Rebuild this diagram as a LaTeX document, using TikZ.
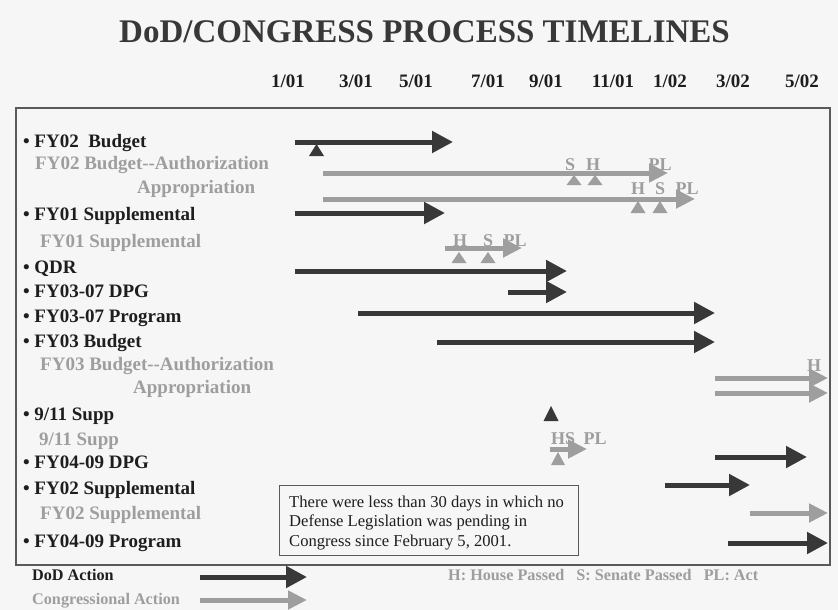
\documentclass[tikz,border=0pt]{standalone}
\usepackage{fontspec}
\setmainfont{Liberation Serif}
\usetikzlibrary{arrows.meta}
\definecolor{darkc}{HTML}{383838}
\definecolor{lightc}{HTML}{9E9E9E}
\definecolor{txtc}{HTML}{1E1E1E}
\definecolor{bgc}{HTML}{F6F6F6}
\definecolor{framec}{HTML}{5A5A5A}
\newcommand\mytri[5]{\fill[#5] (#1-#3/2,#2+#4) -- (#1+#3/2,#2+#4) -- (#1,#2) -- cycle;}
\begin{document}
\begin{tikzpicture}[x=1pt,y=-1pt,
  lbl/.style={anchor=base west, inner sep=0pt, font=\fontsize{19}{22}\selectfont\bfseries},
  blk/.style={lbl, text=txtc},
  gry/.style={lbl, text=lightc},
  mon/.style={anchor=base, inner sep=0pt, font=\fontsize{19}{22}\selectfont\bfseries, text=txtc},
  mk/.style={anchor=base, inner sep=0pt, font=\fontsize{18}{20}\selectfont\bfseries, text=lightc},
  leg/.style={anchor=base west, inner sep=0pt, font=\fontsize{16.2}{19}\selectfont\bfseries},
  boxt/.style={anchor=base west, inner sep=0pt, font=\fontsize{16.6}{19.5}\selectfont, text=txtc},
  dod/.style={draw=darkc, line width=5pt, -{Triangle[length=21pt,width=21pt]}},
  cong/.style={draw=lightc, line width=5pt, -{Triangle[length=19pt,width=18pt]}}]
\fill[bgc] (0,0) rectangle (838,610);
\useasboundingbox (0,0) rectangle (838,610);
% title
\node[anchor=base, inner sep=0pt, font=\fontsize{33}{36}\selectfont\bfseries, text=darkc] (title) at (424.5,43) {DoD/CONGRESS PROCESS TIMELINES};
% months
\node[mon] (m1) at (288,88) {1/01};
\node[mon] (m2) at (356,88) {3/01};
\node[mon] (m3) at (416,88) {5/01};
\node[mon] (m4) at (488,88) {7/01};
\node[mon] (m5) at (546,88) {9/01};
\node[mon] (m6) at (613,88) {11/01};
\node[mon] (m7) at (670,88) {1/02};
\node[mon] (m8) at (733,88) {3/02};
\node[mon] (m9) at (802,88) {5/02};
% frame
\draw[framec, line width=1.3pt] (16,108) rectangle (830,565);
% row labels
\node[blk] (r1) at (23,147) {•\hspace{4.6pt}FY02\ \ Budget};
\node[gry] (r2) at (35,169) {FY02 Budget-{}-Authorization};
\node[gry] (r3) at (137,193) {Appropriation};
\node[blk] (r4) at (23,220) {•\hspace{4.6pt}FY01 Supplemental};
\node[gry] (r5) at (40,247) {FY01 Supplemental};
\node[blk] (r6) at (23,273) {•\hspace{4.6pt}QDR};
\node[blk] (r7) at (23,297) {•\hspace{4.6pt}FY03-07 DPG};
\node[blk] (r8) at (23,322) {•\hspace{4.6pt}FY03-07 Program};
\node[blk] (r9) at (23,347) {•\hspace{4.6pt}FY03 Budget};
\node[gry] (r10) at (40,370) {FY03 Budget-{}-Authorization};
\node[gry] (r11) at (133,393) {Appropriation};
\node[blk] (r12) at (23,420) {•\hspace{4.6pt}9/11 Supp};
\node[gry] (r13) at (39,445) {9/11 Supp};
\node[blk] (r14) at (23,468) {•\hspace{4.6pt}FY04-09 DPG};
\node[blk] (r15) at (23,494) {•\hspace{4.6pt}FY02 Supplemental};
\node[gry] (r16) at (40,519) {FY02 Supplemental};
\node[blk] (r17) at (23,547) {•\hspace{4.6pt}FY04-09 Program};
% arrows: coordinates
\coordinate (a1s) at (295,142); \coordinate (a1e) at (453,142);
\coordinate (a2s) at (323,173); \coordinate (a2e) at (668,173);
\coordinate (a3s) at (323,199); \coordinate (a3e) at (695,199);
\coordinate (a4s) at (295,213); \coordinate (a4e) at (445,213);
\coordinate (a5s) at (445,248); \coordinate (a5e) at (522,248);
\coordinate (a6s) at (295,271); \coordinate (a6e) at (567,271);
\coordinate (a7s) at (508,292); \coordinate (a7e) at (567,292);
\coordinate (a8s) at (358,313); \coordinate (a8e) at (715,313);
\coordinate (a9s) at (437,342); \coordinate (a9e) at (715,342);
\coordinate (a10s) at (715,378); \coordinate (a10e) at (828,378);
\coordinate (a11s) at (715,393); \coordinate (a11e) at (828,393);
\coordinate (a12s) at (550,449); \coordinate (a12e) at (587,449);
\coordinate (a13s) at (715,457); \coordinate (a13e) at (807,457);
\coordinate (a14s) at (665,485); \coordinate (a14e) at (750,485);
\coordinate (a15s) at (750,513); \coordinate (a15e) at (828,513);
\coordinate (a16s) at (728,543); \coordinate (a16e) at (828,543);
\coordinate (l1s) at (200,577); \coordinate (l1e) at (307,577);
\coordinate (l2s) at (200,600); \coordinate (l2e) at (307,600);
% marker letters (drawn before gray lines)
\node[mk] (s2) at (570,170) {S};
\node[mk] (h2) at (593,170) {H};
\node[mk] (p2) at (660,170) {PL};
\node[mk] (h3) at (638,194) {H};
\node[mk] (s3) at (660,194) {S};
\node[mk] (p3) at (687,194) {PL};
\node[mk] (h5) at (460,246) {H};
\node[mk] (s5) at (488,246) {S};
\node[mk] (p5) at (515,246) {PL};
\node[mk] (h10) at (814,371) {H};
\node[mk] (hs12) at (563,444) {HS};
\node[mk] (p12) at (595,444) {PL};
% arrows
\draw[dod] (a1s) -- (a1e);
\draw[cong] (a2s) -- (a2e);
\draw[cong] (a3s) -- (a3e);
\draw[dod] (a4s) -- (a4e);
\draw[cong] (a5s) -- (a5e);
\draw[dod] (a6s) -- (a6e);
\draw[dod] (a7s) -- (a7e);
\draw[dod] (a8s) -- (a8e);
\draw[dod] (a9s) -- (a9e);
\draw[cong] (a10s) -- (a10e);
\draw[cong] (a11s) -- (a11e);
\draw[cong] (a12s) -- (a12e);
\draw[dod] (a13s) -- (a13e);
\draw[dod] (a14s) -- (a14e);
\draw[cong] (a15s) -- (a15e);
\draw[dod] (a16s) -- (a16e);
% triangles
\mytri{316.5}{144}{15}{12}{darkc}
\mytri{574}{175}{15}{10}{lightc}
\mytri{595}{175}{15}{10}{lightc}
\mytri{638}{201}{15}{12}{lightc}
\mytri{660}{201}{15}{12}{lightc}
\mytri{459}{252}{15}{11}{lightc}
\mytri{488}{252}{15}{11}{lightc}
\mytri{551}{406}{15}{15}{darkc}
\mytri{558}{452}{14}{13}{lightc}
% note box
\draw[framec, line width=0.9pt, fill=bgc] (279,485) rectangle (578,555);
\node[boxt] (b1) at (289,507) {There were less than 30 days in which no};
\node[boxt] (b2) at (289,526.5) {Defense Legislation was pending in};
\node[boxt] (b3) at (289,546) {Congress since February 5, 2001.};
% legend
\node[leg, text=txtc] (lg1) at (32,580) {DoD Action};
\node[leg, text=lightc] (lg2) at (32,604) {Congressional Action};
\draw[dod] (l1s) -- (l1e);
\draw[cong] (l2s) -- (l2e);
\node[leg, text=lightc] (lg3) at (448,580) {H: House Passed\ \ \ S: Senate Passed\ \ \ PL: Act};
\end{tikzpicture}
\end{document}
